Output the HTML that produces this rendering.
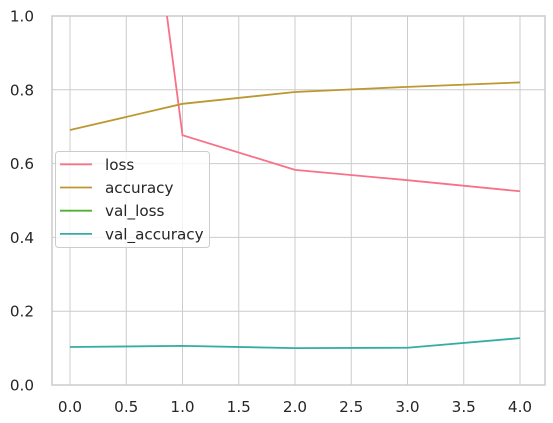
<!DOCTYPE html>
<html><head><meta charset="utf-8"><style>
body{margin:0;background:#fff;}
svg{display:block;font-family:"DejaVu Sans","Liberation Sans",sans-serif;}
</style></head><body>
<svg id="chart" width="553" height="423"></svg>
<script>
const epochs=[0,1,2,3,4];
const lossVals=[3.02,0.677,0.583,0.555,0.525];
const accVals=[0.691,0.762,0.794,0.808,0.820];
const valLossVals=[null,null,null,null,null];
const valAccVals=[0.103,0.106,0.100,0.101,0.127];
const xTicks=[0,0.5,1,1.5,2,2.5,3,3.5,4];
const yTicks=[0,0.2,0.4,0.6,0.8,1.0];
const seriesNames=["loss","accuracy","val_loss","val_accuracy"];
const seriesColors=["#f77189","#bb9832","#50b131","#36ada4"];

const L=52,R=545,T=16,B=385;
const xs=v=>70+v*112.5;
const ys=v=>B-(v-0)*(B-T);
const NS="http://www.w3.org/2000/svg";
const svg=document.getElementById('chart');
function mk(tag,attrs,parent){const e=document.createElementNS(NS,tag);for(const k in attrs)e.setAttribute(k,attrs[k]);(parent||svg).appendChild(e);return e;}
const defs=mk('defs',{});
const cp=mk('clipPath',{id:'clip'},defs);
mk('rect',{x:L,y:T,width:R-L,height:B-T},cp);
mk('rect',{x:0,y:0,width:553,height:423,fill:'#fff'});
xTicks.forEach(t=>{
  const g=mk('line',{x1:xs(t),x2:xs(t),y1:T,y2:B,stroke:'#cccccc','stroke-width':1});
  
  
  const tx=mk('text',{x:xs(t),y:B+27,'text-anchor':'middle','font-size':15.2,fill:'#262626'});
  tx.textContent=t.toFixed(1);
  
  
});
yTicks.forEach(t=>{
  const g=mk('line',{x1:L,x2:R,y1:ys(t),y2:ys(t),stroke:'#cccccc','stroke-width':1});
  
  
  const tx=mk('text',{x:34,y:ys(t)+5.5,'text-anchor':'end','font-size':15.2,fill:'#262626'});
  tx.textContent=t.toFixed(1);
  
  
});
const frame=mk('rect',{x:L,y:T,width:R-L,height:B-T,fill:'none',stroke:'#cccccc','stroke-width':1.5});


const allSeries=[lossVals,accVals,valLossVals,valAccVals];
allSeries.forEach((vals,i)=>{
  let d='';let pen=false;
  vals.forEach((v,j)=>{if(v===null){pen=false;return;}d+=(pen?'L':'M')+xs(epochs[j])+','+ys(v);pen=true;});
  if(!d)return;
  const p=mk('path',{d:d,fill:'none',stroke:seriesColors[i],'stroke-width':1.8,'clip-path':'url(#clip)'});
  
  
});
const lg=mk('g',{});


mk('rect',{x:55.5,y:151.5,width:154,height:96,rx:3,fill:'#fff','fill-opacity':0.8,stroke:'#cccccc'},lg);
seriesNames.forEach((n,i)=>{
  const y=164.3+i*23.2;
  const e=mk('g',{},lg);
  
  
  mk('line',{x1:60,x2:92,y1:y,y2:y,stroke:seriesColors[i],'stroke-width':1.8},e);
  const t=mk('text',{x:105,y:y+5.5,'font-size':15.2,fill:'#262626'},e);
  t.textContent=n;
});
</script>
</body></html>
